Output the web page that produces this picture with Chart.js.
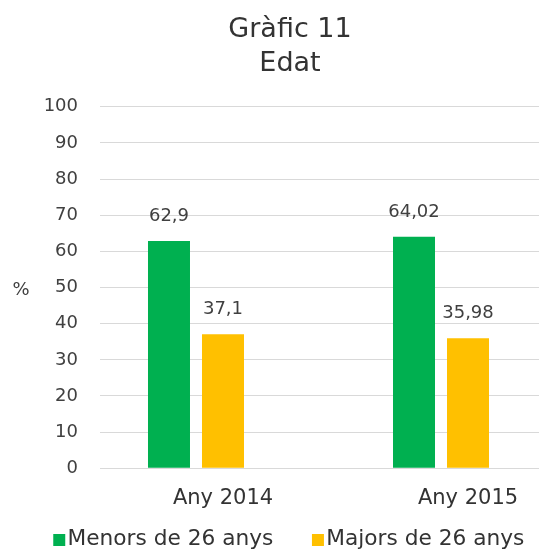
<!DOCTYPE html>
<html>
<head>
<meta charset="utf-8">
<script src="https://cdn.jsdelivr.net/npm/chart.js@4/dist/chart.umd.min.js"></script>
<style>
  html, body { margin: 0; padding: 0; overflow: hidden; background: #ffffff; }
  #wrap { width: 539px; height: 553px; overflow: hidden; }
  canvas { display: block; }
</style>
</head>
<body>
<div id="wrap"><canvas id="c" width="580" height="553"></canvas></div>
<script>
// ---- data ----
const titleLines = ['Gràfic 11', 'Edat'];
const categories = ['Any 2014', 'Any 2015'];
const seriesNames = ['Menors de 26 anys', 'Majors de 26 anys'];
const menors = [62.9, 64.02];
const majors = [37.1, 35.98];
const yTicks = [0, 10, 20, 30, 40, 50, 60, 70, 80, 90, 100];
const yAxisLabel = '%';
const seriesColors = ['#00B050', '#FFC000'];

const FONT = 'DejaVu Sans';
Chart.defaults.font.family = FONT;
Chart.defaults.color = '#404040';

function toPoints(vals) { return vals.map((v, i) => ({ x: i, y: v })); }
function fmt(v) { return String(v).replace('.', ','); }

// legend square drawn as image so it sits close to the text
function makeSwatch(color) {
  const c = document.createElement('canvas');
  c.width = 40; c.height = 12;
  const g = c.getContext('2d');
  g.fillStyle = color;
  g.fillRect(17, 0, 12, 12);
  return c;
}
const swatches = seriesColors.map(makeSwatch);

const dataLabels = {
  id: 'dataLabels',
  afterDatasetsDraw(chart) {
    const ctx = chart.ctx;
    ctx.save();
    ctx.font = '18px "' + FONT + '"';
    ctx.fillStyle = '#404040';
    ctx.textAlign = 'center';
    ctx.textBaseline = 'middle';
    chart.data.datasets.forEach((ds, di) => {
      const meta = chart.getDatasetMeta(di);
      meta.data.forEach((el, i) => {
        ctx.fillText(fmt(ds.data[i].y), el.x, el.y - 25);
      });
    });
    ctx.restore();
  }
};

const yTitle = {
  id: 'yTitle',
  afterDraw(chart) {
    const ctx = chart.ctx;
    const ys = chart.scales.y;
    ctx.save();
    ctx.font = '18px "' + FONT + '"';
    ctx.fillStyle = '#404040';
    ctx.textAlign = 'center';
    ctx.textBaseline = 'middle';
    ctx.fillText(yAxisLabel, 21, (ys.top + ys.bottom) / 2 + 3);
    ctx.restore();
  }
};

// let the category labels overflow the thin x-axis box (no clipping)
const xLabelRoom = {
  id: 'xLabelRoom',
  afterLayout(chart) {
    const s = chart.scales.x;
    s.bottom = s.top + 50;
    s.height = 50;
  }
};

new Chart(document.getElementById('c'), {
  type: 'bar',
  data: {
    datasets: [
      { label: seriesNames[0], data: toPoints(menors), backgroundColor: seriesColors[0] },
      { label: seriesNames[1], data: toPoints(majors), backgroundColor: seriesColors[1] }
    ]
  },
  options: {
    responsive: false,
    animation: false,
    devicePixelRatio: 1,
    layout: { padding: 0 },
    datasets: { bar: { categoryPercentage: 0.4408, barPercentage: 0.7778 } },
    scales: {
      x: {
        type: 'linear',
        offset: false,
        min: -0.3918,
        max: 1.5673,
        grid: { display: false, drawTicks: false, offset: false },
        border: { display: false },
        afterBuildTicks(scale) { scale.ticks = categories.map((_, i) => ({ value: i })); },
        afterFit(scale) { scale.height = 19.7; },
        ticks: {
          callback: (v) => categories[v],
          labelOffset: 27,
          padding: 18,
          font: { size: 21 },
          color: '#333333',
          maxRotation: 0,
          autoSkip: false
        }
      },
      y: {
        min: 0,
        max: 100,
        afterBuildTicks(scale) { scale.ticks = yTicks.map(v => ({ value: v })); },
        afterFit(scale) { scale.width = 100; },
        grid: { color: '#d9d9d9', lineWidth: 1, drawTicks: false },
        border: { display: false },
        ticks: { padding: 22, font: { size: 18 }, color: '#404040' }
      }
    },
    plugins: {
      title: {
        display: true,
        text: titleLines,
        font: { size: 27, weight: 'normal', lineHeight: 1.26 },
        color: '#333333',
        padding: { top: 13, bottom: 25.7 }
      },
      legend: {
        position: 'bottom',
        maxHeight: 65,
        labels: {
          usePointStyle: true,
          pointStyleWidth: 1,
          padding: 41,
          font: { size: 21.7 },
          color: '#333333',
          generateLabels(chart) {
            const items = Chart.defaults.plugins.legend.labels.generateLabels(chart);
            items.forEach((it, i) => { it.pointStyle = swatches[i]; });
            return items;
          }
        }
      },
      tooltip: { enabled: false }
    }
  },
  plugins: [dataLabels, yTitle, xLabelRoom]
});
</script>
</body>
</html>
